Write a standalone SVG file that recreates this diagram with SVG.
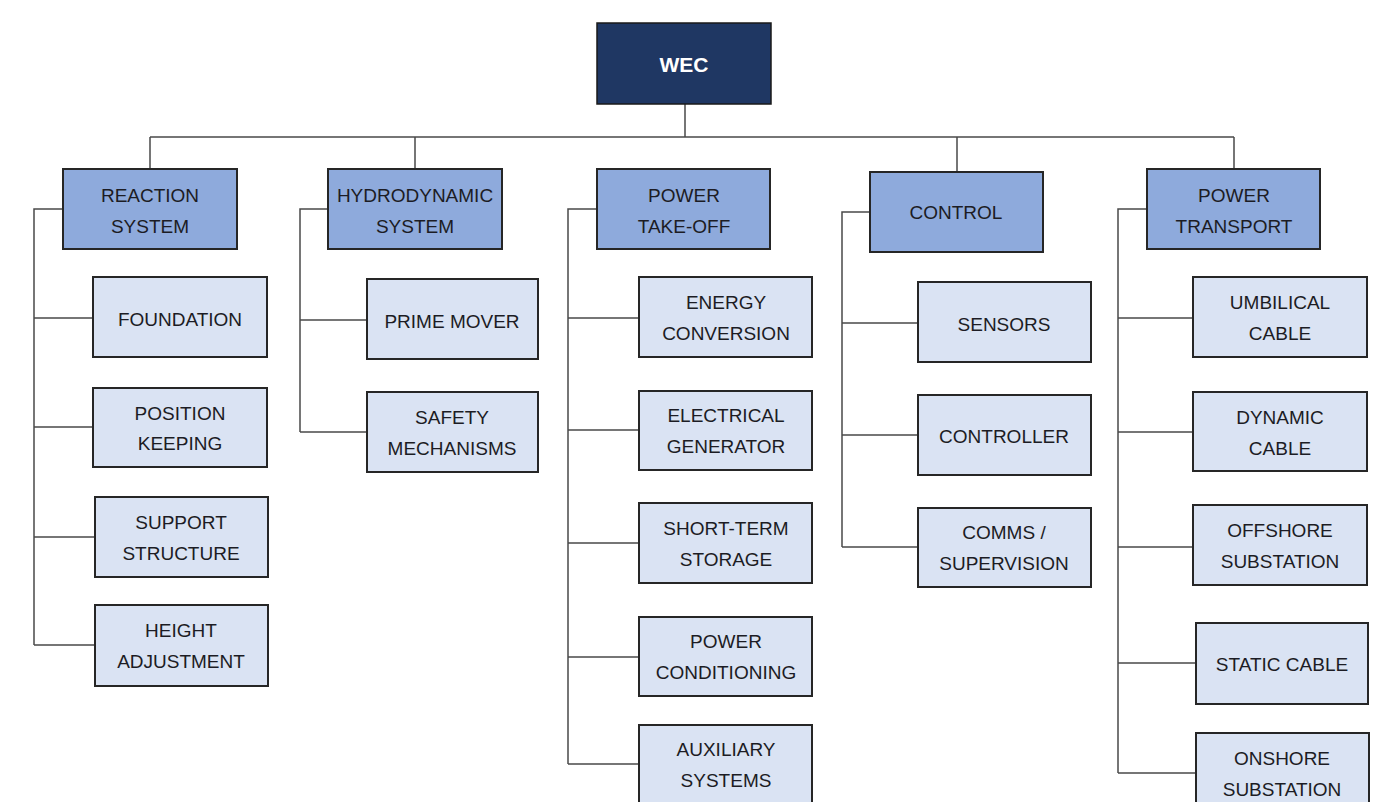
<svg xmlns="http://www.w3.org/2000/svg" width="1398" height="802" viewBox="0 0 1398 802">
<style>
  .root rect { fill: #1f3763; stroke: #1a1a1a; stroke-width: 1.5; }
  .root text { fill: #ffffff; font-weight: bold; font-size: 21px; }
  .l1 rect { fill: #8eaadc; stroke: #262626; stroke-width: 2; }
  .l2 rect { fill: #dae3f3; stroke: #262626; stroke-width: 2; }
  text { font-family: "Liberation Sans", Arial, sans-serif; font-size: 19px; fill: #1c1c24; text-anchor: middle; }
  .conn path { fill: none; stroke: #4a4a4a; stroke-width: 1.5; }
</style>
<rect width="1398" height="802" fill="#ffffff"/>

<g class="conn" id="connectors">
  <path d="M685,104 V137 M150,137 H1234 M150,137 V169 M415,137 V169 M957,137 V172 M1234,137 V169"/>
  <path d="M63,209 H34 V645 M34,318 H93 M34,427 H93 M34,537 H95 M34,645 H95"/>
  <path d="M328,209 H300 V432 M300,320 H367 M300,432 H367"/>
  <path d="M597,209 H568 V764 M568,318 H639 M568,430 H639 M568,543 H639 M568,657 H639 M568,764 H639"/>
  <path d="M870,212 H842 V547 M842,323 H918 M842,435 H918 M842,547 H918"/>
  <path d="M1147,209 H1118 V773 M1118,318 H1193 M1118,432 H1193 M1118,547 H1193 M1118,663 H1196 M1118,773 H1196"/>
</g>

<g id="wec" class="root"><rect x="597" y="23" width="174" height="81"/><text x="684" y="72">WEC</text></g>

<g id="reaction-system" class="l1"><rect x="63" y="169" width="174" height="80"/><text x="150" y="202">REACTION</text><text x="150" y="233">SYSTEM</text></g>
<g id="hydrodynamic-system" class="l1"><rect x="328" y="169" width="174" height="80"/><text x="415" y="202">HYDRODYNAMIC</text><text x="415" y="233">SYSTEM</text></g>
<g id="power-take-off" class="l1"><rect x="597" y="169" width="173" height="80"/><text x="684" y="202">POWER</text><text x="684" y="233">TAKE-OFF</text></g>
<g id="control" class="l1"><rect x="870" y="172" width="173" height="80"/><text x="956" y="219">CONTROL</text></g>
<g id="power-transport" class="l1"><rect x="1147" y="169" width="173" height="80"/><text x="1234" y="202">POWER</text><text x="1234" y="233">TRANSPORT</text></g>

<g id="foundation" class="l2"><rect x="93" y="277" width="174" height="80"/><text x="180" y="326">FOUNDATION</text></g>
<g id="position-keeping" class="l2"><rect x="93" y="388" width="174" height="79"/><text x="180" y="420">POSITION</text><text x="180" y="450">KEEPING</text></g>
<g id="support-structure" class="l2"><rect x="95" y="497" width="173" height="80"/><text x="181" y="529">SUPPORT</text><text x="181" y="560">STRUCTURE</text></g>
<g id="height-adjustment" class="l2"><rect x="95" y="605" width="173" height="81"/><text x="181" y="637">HEIGHT</text><text x="181" y="668">ADJUSTMENT</text></g>

<g id="prime-mover" class="l2"><rect x="367" y="279" width="171" height="80"/><text x="452" y="328">PRIME MOVER</text></g>
<g id="safety-mechanisms" class="l2"><rect x="367" y="392" width="171" height="80"/><text x="452" y="424">SAFETY</text><text x="452" y="455">MECHANISMS</text></g>

<g id="energy-conversion" class="l2"><rect x="639" y="277" width="173" height="80"/><text x="726" y="309">ENERGY</text><text x="726" y="340">CONVERSION</text></g>
<g id="electrical-generator" class="l2"><rect x="639" y="391" width="173" height="79"/><text x="726" y="422">ELECTRICAL</text><text x="726" y="453">GENERATOR</text></g>
<g id="short-term-storage" class="l2"><rect x="639" y="503" width="173" height="80"/><text x="726" y="535">SHORT-TERM</text><text x="726" y="566">STORAGE</text></g>
<g id="power-conditioning" class="l2"><rect x="639" y="617" width="173" height="79"/><text x="726" y="648">POWER</text><text x="726" y="679">CONDITIONING</text></g>
<g id="auxiliary-systems" class="l2"><rect x="639" y="725" width="173" height="82"/><text x="726" y="756">AUXILIARY</text><text x="726" y="787">SYSTEMS</text></g>

<g id="sensors" class="l2"><rect x="918" y="282" width="173" height="80"/><text x="1004" y="331">SENSORS</text></g>
<g id="controller" class="l2"><rect x="918" y="395" width="173" height="80"/><text x="1004" y="443">CONTROLLER</text></g>
<g id="comms-supervision" class="l2"><rect x="918" y="508" width="173" height="79"/><text x="1004" y="539">COMMS /</text><text x="1004" y="570">SUPERVISION</text></g>

<g id="umbilical-cable" class="l2"><rect x="1193" y="277" width="174" height="80"/><text x="1280" y="309">UMBILICAL</text><text x="1280" y="340">CABLE</text></g>
<g id="dynamic-cable" class="l2"><rect x="1193" y="392" width="174" height="79"/><text x="1280" y="424">DYNAMIC</text><text x="1280" y="455">CABLE</text></g>
<g id="offshore-substation" class="l2"><rect x="1193" y="505" width="174" height="80"/><text x="1280" y="537">OFFSHORE</text><text x="1280" y="568">SUBSTATION</text></g>
<g id="static-cable" class="l2"><rect x="1196" y="623" width="172" height="81"/><text x="1282" y="671">STATIC CABLE</text></g>
<g id="onshore-substation" class="l2"><rect x="1196" y="733" width="173" height="75"/><text x="1282" y="765">ONSHORE</text><text x="1282" y="796">SUBSTATION</text></g>
</svg>
